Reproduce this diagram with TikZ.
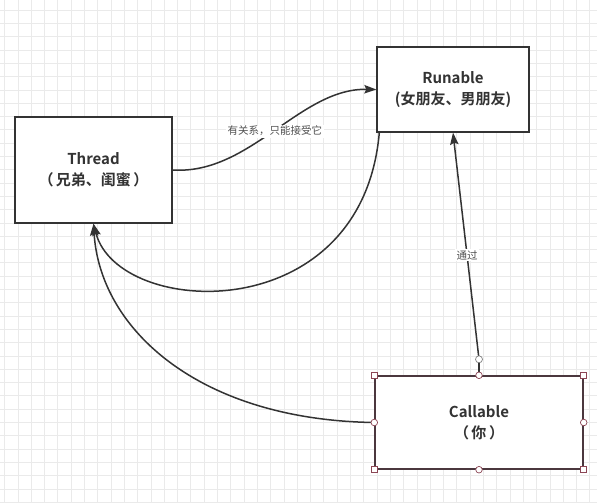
\documentclass[tikz,border=0pt]{standalone}
\usepackage{fontspec}
\setmainfont{Noto Sans CJK SC}[BoldFont={Noto Sans CJK SC Bold}]
\usetikzlibrary{arrows.meta,calc,positioning}
\definecolor{inkdark}{RGB}{51,51,51}
\definecolor{labelgray}{RGB}{80,80,80}
\definecolor{gridgray}{RGB}{234,234,234}
\definecolor{handlered}{RGB}{140,70,85}
\definecolor{selectedink}{RGB}{75,55,62}

\begin{document}
\begin{tikzpicture}[
  x=1pt, y=-1pt,
  gridline/.style={gridgray, line width=0.6pt},
  classbox/.style={draw=inkdark, line width=1.4pt, fill=white, align=center,
    text=inkdark, font=\fontsize{15}{21}\selectfont\bfseries, inner sep=0pt},
  link/.style={-{Stealth[length=12pt, width=8.5pt, inset=2pt]}, inkdark, line width=1.5pt},
  linklabel/.style={font=\fontsize{10.5}{12}\selectfont, text=labelgray, fill=white, inner sep=1.5pt},
  handle/.style={draw=handlered, fill=white, line width=0.7pt},
]
\useasboundingbox (0,0) rectangle (597,503);
\fill[white] (0,0) rectangle (597,503);

% -------------------------------------------------------------------------
% Background grid of the drawing canvas.
% -------------------------------------------------------------------------
\foreach \gx in {0,...,44}
  \draw[gridline] ({4.5+13.3*\gx},0) -- ({4.5+13.3*\gx},503);
\foreach \gy in {0,...,37}
  \draw[gridline] (0,{10+13.3*\gy}) -- (597,{10+13.3*\gy});

% -------------------------------------------------------------------------
% The three classes.
% -------------------------------------------------------------------------
\node[classbox, minimum width=157pt, minimum height=106pt]
  (thread) at (93.5,170) {Thread\\（\,兄弟、闺蜜\,）};
\node[classbox, minimum width=152pt, minimum height=85pt]
  (runable) at (453,89.5) {Runable\\(女朋友、男朋友)};
\node[classbox, draw=selectedink, minimum width=208pt, minimum height=93pt]
  (callable) at (479,422.5) {Callable\\（\,你\,）};

% -------------------------------------------------------------------------
% Connectors between the classes.
% -------------------------------------------------------------------------
\draw[link] (thread.east) .. controls (250,175) and (300,88) .. (runable.west)
  node[pos=0.5, linklabel] {有关系，只能接受它};
\draw[link] ([xshift=3pt]runable.south west)
  .. controls (362,330) and (118,318) .. (thread.south);
\draw[link] (callable.west) .. controls (200,420) and (100,330) .. (thread.south);

\coordinate (callin) at ($(callable.north)+(0,-16)$);
\draw[inkdark, line width=1.5pt] (callable.north) -- (callin);
\draw[link] (callin) -- (runable.south)
  node[pos=0.46, linklabel] {通过};

% Selection handles round the Callable box.
\draw[handle, draw=gray] (callin) circle (3.5pt);
\foreach \h in {north west, north east, south west, south east}
  \draw[handle] ($(callable.\h)+(-3,-3)$) rectangle ++(6,6);
\foreach \h in {north, south, east, west}
  \draw[handle] (callable.\h) circle (3.3pt);

\end{tikzpicture}
\end{document}
